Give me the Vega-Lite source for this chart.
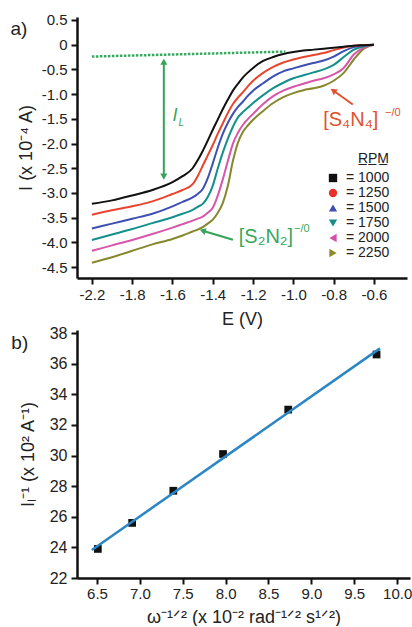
{
  "$schema": "https://vega.github.io/schema/vega-lite/v6.json",
  "background": "white",
  "padding": {"left": 10, "top": 12, "right": 0, "bottom": 0},
  "bounds": "flush",
  "spacing": 52,
  "config": {
    "font": "Liberation Sans",
    "view": {"stroke": null},
    "axis": {"grid": false, "domainColor": "#111111", "domainWidth": 2.5, "tickColor": "#111111", "tickWidth": 2, "tickSize": 6, "labelColor": "#222222", "titleColor": "#222222", "labelFont": "Liberation Sans", "titleFont": "Liberation Sans", "titleFontWeight": "normal", "labelFontSize": 15, "titleFontSize": 18, "labelFlush": false},
    "line": {"strokeWidth": 2, "interpolate": "monotone"}
  },
  "datasets": {
    "cv": [
      {"E":-2.0,"I":-3.22,"rpm":"1000"},{"E":-1.9,"I":-3.15,"rpm":"1000"},{"E":-1.8,"I":-3.05,"rpm":"1000"},{"E":-1.7,"I":-2.94,"rpm":"1000"},{"E":-1.6,"I":-2.78,"rpm":"1000"},{"E":-1.55,"I":-2.66,"rpm":"1000"},{"E":-1.5,"I":-2.50,"rpm":"1000"},{"E":-1.475,"I":-2.34,"rpm":"1000"},{"E":-1.45,"I":-2.15,"rpm":"1000"},{"E":-1.425,"I":-1.94,"rpm":"1000"},{"E":-1.4,"I":-1.72,"rpm":"1000"},{"E":-1.375,"I":-1.51,"rpm":"1000"},{"E":-1.35,"I":-1.30,"rpm":"1000"},{"E":-1.325,"I":-1.11,"rpm":"1000"},{"E":-1.3,"I":-0.93,"rpm":"1000"},{"E":-1.275,"I":-0.79,"rpm":"1000"},{"E":-1.25,"I":-0.66,"rpm":"1000"},{"E":-1.225,"I":-0.56,"rpm":"1000"},{"E":-1.2,"I":-0.47,"rpm":"1000"},{"E":-1.15,"I":-0.33,"rpm":"1000"},{"E":-1.1,"I":-0.25,"rpm":"1000"},{"E":-1.05,"I":-0.19,"rpm":"1000"},{"E":-1.0,"I":-0.15,"rpm":"1000"},{"E":-0.95,"I":-0.12,"rpm":"1000"},{"E":-0.9,"I":-0.10,"rpm":"1000"},{"E":-0.85,"I":-0.08,"rpm":"1000"},{"E":-0.8,"I":-0.06,"rpm":"1000"},{"E":-0.75,"I":-0.04,"rpm":"1000"},{"E":-0.7,"I":-0.02,"rpm":"1000"},{"E":-0.65,"I":-0.01,"rpm":"1000"},{"E":-0.6,"I":0.0,"rpm":"1000"},
      {"E":-2.0,"I":-3.44,"rpm":"1250"},{"E":-1.9,"I":-3.35,"rpm":"1250"},{"E":-1.8,"I":-3.27,"rpm":"1250"},{"E":-1.7,"I":-3.17,"rpm":"1250"},{"E":-1.6,"I":-3.02,"rpm":"1250"},{"E":-1.55,"I":-2.94,"rpm":"1250"},{"E":-1.5,"I":-2.82,"rpm":"1250"},{"E":-1.475,"I":-2.66,"rpm":"1250"},{"E":-1.45,"I":-2.45,"rpm":"1250"},{"E":-1.425,"I":-2.24,"rpm":"1250"},{"E":-1.4,"I":-2.03,"rpm":"1250"},{"E":-1.375,"I":-1.80,"rpm":"1250"},{"E":-1.35,"I":-1.59,"rpm":"1250"},{"E":-1.325,"I":-1.38,"rpm":"1250"},{"E":-1.3,"I":-1.20,"rpm":"1250"},{"E":-1.275,"I":-1.07,"rpm":"1250"},{"E":-1.25,"I":-0.96,"rpm":"1250"},{"E":-1.225,"I":-0.84,"rpm":"1250"},{"E":-1.2,"I":-0.73,"rpm":"1250"},{"E":-1.15,"I":-0.57,"rpm":"1250"},{"E":-1.1,"I":-0.45,"rpm":"1250"},{"E":-1.05,"I":-0.36,"rpm":"1250"},{"E":-1.0,"I":-0.30,"rpm":"1250"},{"E":-0.95,"I":-0.25,"rpm":"1250"},{"E":-0.9,"I":-0.21,"rpm":"1250"},{"E":-0.85,"I":-0.17,"rpm":"1250"},{"E":-0.8,"I":-0.11,"rpm":"1250"},{"E":-0.75,"I":-0.06,"rpm":"1250"},{"E":-0.7,"I":-0.02,"rpm":"1250"},{"E":-0.65,"I":-0.01,"rpm":"1250"},{"E":-0.6,"I":0.0,"rpm":"1250"},
      {"E":-2.0,"I":-3.72,"rpm":"1500"},{"E":-1.9,"I":-3.62,"rpm":"1500"},{"E":-1.8,"I":-3.52,"rpm":"1500"},{"E":-1.7,"I":-3.42,"rpm":"1500"},{"E":-1.6,"I":-3.27,"rpm":"1500"},{"E":-1.55,"I":-3.18,"rpm":"1500"},{"E":-1.5,"I":-3.09,"rpm":"1500"},{"E":-1.475,"I":-3.02,"rpm":"1500"},{"E":-1.45,"I":-2.92,"rpm":"1500"},{"E":-1.425,"I":-2.70,"rpm":"1500"},{"E":-1.4,"I":-2.40,"rpm":"1500"},{"E":-1.375,"I":-2.08,"rpm":"1500"},{"E":-1.35,"I":-1.80,"rpm":"1500"},{"E":-1.325,"I":-1.58,"rpm":"1500"},{"E":-1.3,"I":-1.40,"rpm":"1500"},{"E":-1.275,"I":-1.26,"rpm":"1500"},{"E":-1.25,"I":-1.15,"rpm":"1500"},{"E":-1.225,"I":-1.03,"rpm":"1500"},{"E":-1.2,"I":-0.93,"rpm":"1500"},{"E":-1.15,"I":-0.78,"rpm":"1500"},{"E":-1.1,"I":-0.64,"rpm":"1500"},{"E":-1.05,"I":-0.54,"rpm":"1500"},{"E":-1.0,"I":-0.48,"rpm":"1500"},{"E":-0.95,"I":-0.42,"rpm":"1500"},{"E":-0.9,"I":-0.37,"rpm":"1500"},{"E":-0.85,"I":-0.32,"rpm":"1500"},{"E":-0.8,"I":-0.24,"rpm":"1500"},{"E":-0.75,"I":-0.13,"rpm":"1500"},{"E":-0.7,"I":-0.05,"rpm":"1500"},{"E":-0.65,"I":-0.01,"rpm":"1500"},{"E":-0.6,"I":0.0,"rpm":"1500"},
      {"E":-2.0,"I":-3.95,"rpm":"1750"},{"E":-1.9,"I":-3.84,"rpm":"1750"},{"E":-1.8,"I":-3.73,"rpm":"1750"},{"E":-1.7,"I":-3.61,"rpm":"1750"},{"E":-1.6,"I":-3.49,"rpm":"1750"},{"E":-1.55,"I":-3.42,"rpm":"1750"},{"E":-1.5,"I":-3.34,"rpm":"1750"},{"E":-1.475,"I":-3.28,"rpm":"1750"},{"E":-1.45,"I":-3.22,"rpm":"1750"},{"E":-1.425,"I":-3.08,"rpm":"1750"},{"E":-1.4,"I":-2.85,"rpm":"1750"},{"E":-1.375,"I":-2.50,"rpm":"1750"},{"E":-1.35,"I":-2.18,"rpm":"1750"},{"E":-1.325,"I":-1.90,"rpm":"1750"},{"E":-1.3,"I":-1.66,"rpm":"1750"},{"E":-1.275,"I":-1.47,"rpm":"1750"},{"E":-1.25,"I":-1.36,"rpm":"1750"},{"E":-1.225,"I":-1.27,"rpm":"1750"},{"E":-1.2,"I":-1.18,"rpm":"1750"},{"E":-1.15,"I":-1.02,"rpm":"1750"},{"E":-1.1,"I":-0.88,"rpm":"1750"},{"E":-1.05,"I":-0.77,"rpm":"1750"},{"E":-1.0,"I":-0.68,"rpm":"1750"},{"E":-0.95,"I":-0.62,"rpm":"1750"},{"E":-0.9,"I":-0.56,"rpm":"1750"},{"E":-0.85,"I":-0.50,"rpm":"1750"},{"E":-0.8,"I":-0.41,"rpm":"1750"},{"E":-0.75,"I":-0.25,"rpm":"1750"},{"E":-0.7,"I":-0.10,"rpm":"1750"},{"E":-0.65,"I":-0.03,"rpm":"1750"},{"E":-0.6,"I":0.0,"rpm":"1750"},
      {"E":-2.0,"I":-4.17,"rpm":"2000"},{"E":-1.9,"I":-4.06,"rpm":"2000"},{"E":-1.8,"I":-3.95,"rpm":"2000"},{"E":-1.7,"I":-3.83,"rpm":"2000"},{"E":-1.6,"I":-3.70,"rpm":"2000"},{"E":-1.55,"I":-3.63,"rpm":"2000"},{"E":-1.5,"I":-3.56,"rpm":"2000"},{"E":-1.475,"I":-3.52,"rpm":"2000"},{"E":-1.45,"I":-3.48,"rpm":"2000"},{"E":-1.425,"I":-3.40,"rpm":"2000"},{"E":-1.4,"I":-3.30,"rpm":"2000"},{"E":-1.375,"I":-3.05,"rpm":"2000"},{"E":-1.35,"I":-2.72,"rpm":"2000"},{"E":-1.325,"I":-2.35,"rpm":"2000"},{"E":-1.3,"I":-2.00,"rpm":"2000"},{"E":-1.275,"I":-1.78,"rpm":"2000"},{"E":-1.25,"I":-1.62,"rpm":"2000"},{"E":-1.225,"I":-1.50,"rpm":"2000"},{"E":-1.2,"I":-1.40,"rpm":"2000"},{"E":-1.15,"I":-1.20,"rpm":"2000"},{"E":-1.1,"I":-1.04,"rpm":"2000"},{"E":-1.05,"I":-0.93,"rpm":"2000"},{"E":-1.0,"I":-0.85,"rpm":"2000"},{"E":-0.95,"I":-0.79,"rpm":"2000"},{"E":-0.9,"I":-0.73,"rpm":"2000"},{"E":-0.85,"I":-0.68,"rpm":"2000"},{"E":-0.8,"I":-0.60,"rpm":"2000"},{"E":-0.75,"I":-0.47,"rpm":"2000"},{"E":-0.7,"I":-0.20,"rpm":"2000"},{"E":-0.65,"I":-0.06,"rpm":"2000"},{"E":-0.6,"I":0.0,"rpm":"2000"},
      {"E":-2.0,"I":-4.41,"rpm":"2250"},{"E":-1.9,"I":-4.30,"rpm":"2250"},{"E":-1.8,"I":-4.17,"rpm":"2250"},{"E":-1.7,"I":-4.04,"rpm":"2250"},{"E":-1.6,"I":-3.93,"rpm":"2250"},{"E":-1.55,"I":-3.86,"rpm":"2250"},{"E":-1.5,"I":-3.78,"rpm":"2250"},{"E":-1.475,"I":-3.74,"rpm":"2250"},{"E":-1.45,"I":-3.69,"rpm":"2250"},{"E":-1.425,"I":-3.62,"rpm":"2250"},{"E":-1.4,"I":-3.54,"rpm":"2250"},{"E":-1.375,"I":-3.40,"rpm":"2250"},{"E":-1.35,"I":-3.20,"rpm":"2250"},{"E":-1.325,"I":-2.85,"rpm":"2250"},{"E":-1.3,"I":-2.35,"rpm":"2250"},{"E":-1.275,"I":-1.98,"rpm":"2250"},{"E":-1.25,"I":-1.76,"rpm":"2250"},{"E":-1.225,"I":-1.63,"rpm":"2250"},{"E":-1.2,"I":-1.52,"rpm":"2250"},{"E":-1.15,"I":-1.34,"rpm":"2250"},{"E":-1.1,"I":-1.18,"rpm":"2250"},{"E":-1.05,"I":-1.06,"rpm":"2250"},{"E":-1.0,"I":-0.98,"rpm":"2250"},{"E":-0.95,"I":-0.92,"rpm":"2250"},{"E":-0.9,"I":-0.88,"rpm":"2250"},{"E":-0.85,"I":-0.83,"rpm":"2250"},{"E":-0.8,"I":-0.73,"rpm":"2250"},{"E":-0.75,"I":-0.57,"rpm":"2250"},{"E":-0.7,"I":-0.30,"rpm":"2250"},{"E":-0.65,"I":-0.08,"rpm":"2250"},{"E":-0.6,"I":0.0,"rpm":"2250"}
    ],
    "notes": [
      {"k":"base","E":-2.0,"I":-0.24},
      {"k":"base","E":-1.04,"I":-0.14},
      {"k":"il","E":-1.643,"I":-0.345,"I2":-2.67},
      {"k":"up","E":-1.643,"I":-0.345},
      {"k":"down","E":-1.643,"I":-2.67},
      {"k":"redarrow","E":-0.705,"I":-1.21,"E2":-0.802,"I2":-0.927},
      {"k":"redhead","E":-0.802,"I":-0.927},
      {"k":"greenarrow","E":-1.30,"I":-3.947,"E2":-1.45,"I2":-3.763},
      {"k":"greenhead","E":-1.45,"I":-3.763},
      {"k":"panel","E":-2.362,"I":0.32,"t":"a)"},
      {"k":"ilI","E":-1.588,"I":-1.437,"t":"I"},
      {"k":"ilL","E":-1.556,"I":-1.58,"t":"L"},
      {"k":"redtxt","E":-0.715,"I":-1.52,"t":"[S₄N₄]"},
      {"k":"redsup","E":-0.506,"I":-1.376,"t":"−/0"},
      {"k":"greentxt","E":-1.136,"I":-3.887,"t":"[S₂N₂]"},
      {"k":"greensup","E":-0.958,"I":-3.725,"t":"−/0"}
    ],
    "lev": [
      {"w":6.51,"inv":23.9},
      {"w":6.91,"inv":25.6},
      {"w":7.39,"inv":27.7},
      {"w":7.97,"inv":30.1},
      {"w":8.73,"inv":33.0},
      {"w":9.76,"inv":36.6}
    ],
    "fit": [
      {"w":6.44,"inv":23.83},
      {"w":9.80,"inv":37.0}
    ],
    "tagb": [
      {"w":5.60,"inv":37.36,"t":"b)"}
    ]
  },
  "vconcat": [
    {
      "width": 330,
      "height": 261,
      "encoding": {
        "x": {"field": "E", "type": "quantitative", "scale": {"domain": [-2.074, -0.436], "nice": false, "zero": false},
              "axis": {"title": "E (V)", "values": [-2, -1.8, -1.6, -1.4, -1.2, -1, -0.8, -0.6], "labelExpr": "datum.value < -1.95 ? '-2.2' : replace(format(datum.value, '.1f'), '−', '-')", "labelPadding": 3, "titlePadding": 8}},
        "y": {"field": "I", "type": "quantitative", "scale": {"domain": [-4.72, 0.56], "nice": false, "zero": false},
              "axis": {"title": "I (x 10⁻⁴ A)", "values": [0.5, 0, -0.5, -1, -1.5, -2, -2.5, -3, -3.5, -4, -4.5], "labelExpr": "datum.value == 0 ? '0' : replace(format(datum.value, '.1f'), '−', '-')", "labelPadding": 4, "titlePadding": 6}}
      },
      "layer": [
        {"data": {"name": "cv"}, "transform": [{"filter": "datum.rpm == '2250'"}], "mark": {"type": "line", "color": "#87872c"}, "encoding": {}},
        {"data": {"name": "cv"}, "transform": [{"filter": "datum.rpm == '2000'"}], "mark": {"type": "line", "color": "#d756aa"}, "encoding": {}},
        {"data": {"name": "cv"}, "transform": [{"filter": "datum.rpm == '1750'"}], "mark": {"type": "line", "color": "#14908c"}, "encoding": {}},
        {"data": {"name": "cv"}, "transform": [{"filter": "datum.rpm == '1500'"}], "mark": {"type": "line", "color": "#3e4fb3"}, "encoding": {}},
        {"data": {"name": "cv"}, "transform": [{"filter": "datum.rpm == '1250'"}], "mark": {"type": "line", "color": "#e8452e"}, "encoding": {}},
        {"data": {"name": "cv"}, "transform": [{"filter": "datum.rpm == '1000'"}], "mark": {"type": "line", "color": "#111111"}, "encoding": {}},
        {
          "data": {"name": "cv"},
          "mark": {"type": "point", "filled": true, "opacity": 0},
          "encoding": {
            "color": {"field": "rpm", "type": "nominal", "scale": {"domain": ["1000","1250","1500","1750","2000","2250"], "range": ["#111111","#e8312b","#3f4fb0","#178a8a","#d352a8","#8a8a2a"]}, "legend": {"title": "R̲P̲M̲", "orient": "none", "legendX": 249, "legendY": 135, "titleAnchor": "end", "titleFontWeight": "normal", "titleFontSize": 14, "titleColor": "#222222", "titlePadding": 5, "labelFontSize": 14, "labelColor": "#222222", "labelExpr": "'= ' + datum.label", "symbolSize": 70, "symbolStrokeWidth": 0, "symbolOpacity": 1, "rowPadding": 1, "labelOffset": 6}},
            "shape": {"field": "rpm", "type": "nominal", "scale": {"domain": ["1000","1250","1500","1750","2000","2250"], "range": ["square","circle","triangle-up","triangle-down","triangle-left","triangle-right"]}, "legend": {"title": "R̲P̲M̲", "orient": "none", "legendX": 249, "legendY": 135, "titleAnchor": "end", "titleFontWeight": "normal", "titleFontSize": 14, "titleColor": "#222222", "titlePadding": 5, "labelFontSize": 14, "labelColor": "#222222", "labelExpr": "'= ' + datum.label", "symbolSize": 70, "symbolStrokeWidth": 0, "symbolOpacity": 1, "rowPadding": 1, "labelOffset": 6}}
          }
        },
        {
          "data": {"name": "notes"},
          "transform": [{"filter": "datum.k == 'base'"}],
          "mark": {"type": "line", "color": "#3aa85f", "strokeWidth": 2.5, "strokeDash": [2.5, 1.5], "interpolate": "linear"},
          "encoding": {}
        },
        {
          "data": {"name": "notes"},
          "transform": [{"filter": "datum.k == 'il'"}],
          "mark": {"type": "rule", "color": "#36a35a", "strokeWidth": 2},
          "encoding": {"y2": {"field": "I2"}}
        },
        {
          "data": {"name": "notes"},
          "transform": [{"filter": "datum.k == 'up'"}],
          "mark": {"type": "point", "shape": "triangle-up", "filled": true, "color": "#36a35a", "size": 50, "opacity": 1}
        },
        {
          "data": {"name": "notes"},
          "transform": [{"filter": "datum.k == 'down'"}],
          "mark": {"type": "point", "shape": "triangle-down", "filled": true, "color": "#36a35a", "size": 50, "opacity": 1}
        },
        {
          "data": {"name": "notes"},
          "transform": [{"filter": "datum.k == 'redarrow'"}],
          "mark": {"type": "rule", "color": "#e0532f", "strokeWidth": 2},
          "encoding": {"x2": {"field": "E2"}, "y2": {"field": "I2"}}
        },
        {
          "data": {"name": "notes"},
          "transform": [{"filter": "datum.k == 'redhead'"}],
          "mark": {"type": "point", "shape": "triangle-up", "angle": 306, "filled": true, "color": "#e0532f", "size": 50, "opacity": 1}
        },
        {
          "data": {"name": "notes"},
          "transform": [{"filter": "datum.k == 'greenarrow'"}],
          "mark": {"type": "rule", "color": "#36a35a", "strokeWidth": 2},
          "encoding": {"x2": {"field": "E2"}, "y2": {"field": "I2"}}
        },
        {
          "data": {"name": "notes"},
          "transform": [{"filter": "datum.k == 'greenhead'"}],
          "mark": {"type": "point", "shape": "triangle-up", "angle": 287, "filled": true, "color": "#36a35a", "size": 50, "opacity": 1}
        },
        {
          "data": {"name": "notes"},
          "transform": [{"filter": "datum.k == 'panel'"}],
          "mark": {"type": "text", "fontSize": 19, "color": "#222222", "align": "center", "baseline": "middle"},
          "encoding": {"text": {"field": "t"}}
        },
        {
          "data": {"name": "notes"},
          "transform": [{"filter": "datum.k == 'ilI'"}],
          "mark": {"type": "text", "fontSize": 18, "fontStyle": "italic", "color": "#3aa55e", "align": "center", "baseline": "middle"},
          "encoding": {"text": {"field": "t"}}
        },
        {
          "data": {"name": "notes"},
          "transform": [{"filter": "datum.k == 'ilL'"}],
          "mark": {"type": "text", "fontSize": 10, "fontStyle": "italic", "color": "#3aa55e", "align": "center", "baseline": "middle"},
          "encoding": {"text": {"field": "t"}}
        },
        {
          "data": {"name": "notes"},
          "transform": [{"filter": "datum.k == 'redtxt'"}],
          "mark": {"type": "text", "fontSize": 20, "color": "#e0532f", "align": "center", "baseline": "middle"},
          "encoding": {"text": {"field": "t"}}
        },
        {
          "data": {"name": "notes"},
          "transform": [{"filter": "datum.k == 'redsup'"}],
          "mark": {"type": "text", "fontSize": 11, "color": "#e0532f", "align": "center", "baseline": "middle"},
          "encoding": {"text": {"field": "t"}}
        },
        {
          "data": {"name": "notes"},
          "transform": [{"filter": "datum.k == 'greentxt'"}],
          "mark": {"type": "text", "fontSize": 20, "color": "#3aa55e", "align": "center", "baseline": "middle"},
          "encoding": {"text": {"field": "t"}}
        },
        {
          "data": {"name": "notes"},
          "transform": [{"filter": "datum.k == 'greensup'"}],
          "mark": {"type": "text", "fontSize": 11, "color": "#3aa55e", "align": "center", "baseline": "middle"},
          "encoding": {"text": {"field": "t"}}
        }
      ]
    },
    {
      "width": 333,
      "height": 248,
      "encoding": {
        "x": {"field": "w", "type": "quantitative", "scale": {"domain": [6.267, 10.15], "nice": false, "zero": false},
              "axis": {"title": "ω⁻¹ᐟ² (x 10⁻² rad⁻¹ᐟ² s¹ᐟ²)", "values": [6.5, 7, 7.5, 8, 8.5, 9, 9.5, 10], "format": ".1f", "labelPadding": 2, "titlePadding": 7}},
        "y": {"field": "inv", "type": "quantitative", "scale": {"domain": [22, 38.2], "nice": false, "zero": false},
              "axis": {"title": "Iₗ⁻¹ (x 10² A⁻¹)", "values": [22, 24, 26, 28, 30, 32, 34, 36, 38], "format": "d", "labelFontSize": 16, "labelPadding": 4, "titlePadding": 12}}
      },
      "layer": [
        {
          "data": {"name": "lev"},
          "mark": {"type": "square", "color": "#111111", "size": 60, "opacity": 1}
        },
        {
          "data": {"name": "fit"},
          "mark": {"type": "line", "color": "#2b86c5", "strokeWidth": 2.5, "interpolate": "linear"},
          "encoding": {}
        },
        {
          "data": {"name": "tagb"},
          "mark": {"type": "text", "fontSize": 19, "color": "#222222", "align": "center", "baseline": "middle"},
          "encoding": {"text": {"field": "t"}}
        }
      ]
    }
  ]
}
